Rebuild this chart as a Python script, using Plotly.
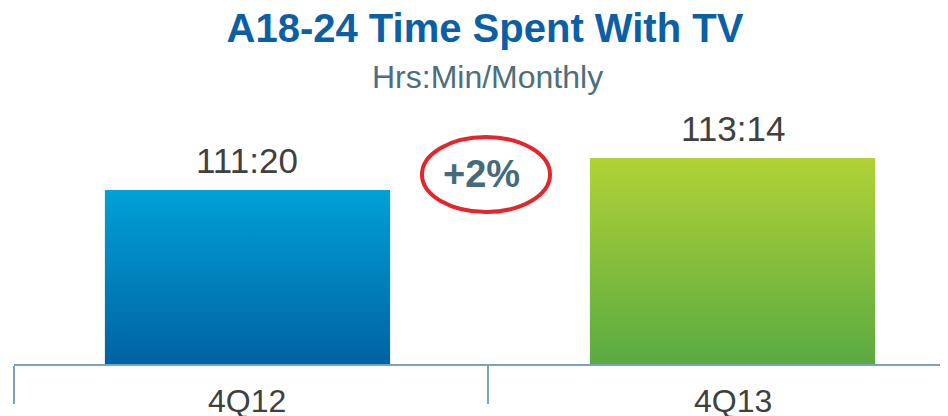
import plotly.graph_objects as go

# data
categories = ["4Q12", "4Q13"]
hours_part = [111, 113]
minutes_part = [20, 14]
change_label = "+2%"
title_text = "A18-24 Time Spent With TV"
subtitle_text = "Hrs:Min/Monthly"

values = [h + m / 60 for h, m in zip(hours_part, minutes_part)]
value_labels = [f"{h}:{m:02d}" for h, m in zip(hours_part, minutes_part)]

# styles
FONT = "Liberation Sans, Arial, sans-serif"
TITLE_BLUE = "#0b60a5"
SUB_INK = "#4d6e7e"
INK = "#404040"
AXIS = "#7ba4bc"
BADGE_INK = "#456a7c"
RING = "#e2262b"
GRADIENTS = [["#0062a2", "#00a1d6"], ["#5aaa42", "#b1d236"]]  # bottom -> top

Y_BASE = 101.0
HALF_W = 0.294
PX_PER_UNIT = 16.84
PLOT_H = 356  # page body adds an 8px offset, figure is sized to fit

fig = go.Figure()
for i, (cat, v) in enumerate(zip(categories, values)):
    bottom, top = GRADIENTS[i]
    fig.add_scatter(
        x=[i - HALF_W, i - HALF_W, i + HALF_W, i + HALF_W, i - HALF_W],
        y=[Y_BASE, v, v, Y_BASE, Y_BASE],
        mode="lines", line=dict(width=0), fill="toself",
        fillgradient=dict(type="vertical", colorscale=[[0, bottom], [1, top]]),
        name=cat, hoverinfo="skip", showlegend=False,
    )
    fig.add_annotation(x=i, y=v, text=value_labels[i], showarrow=False,
                       yanchor="bottom", yshift=8,
                       font=dict(family=FONT, size=35, color=INK))
    # category label under the axis
    fig.add_annotation(x=i, yref="paper", y=-0.104, text=cat, showarrow=False,
                       yanchor="middle", font=dict(family=FONT, size=32, color=INK))

fig.update_layout(
    template="none",
    width=940, height=408,
    paper_bgcolor="white", plot_bgcolor="white",
    margin=dict(l=6, r=0, t=0, b=52),
    showlegend=False,
    title=dict(text=f"<b>{title_text}</b>", x=0.5074, xanchor="center",
               y=1 - 20 / 408, yanchor="middle", xref="container", yref="container",
               font=dict(family=FONT, size=40, color=TITLE_BLUE)),
)
fig.add_annotation(xref="paper", yref="paper", x=0.507, y=0.806, text=subtitle_text,
                   showarrow=False, yanchor="middle",
                   font=dict(family=FONT, size=32, color=SUB_INK))

# ring + change badge
fig.add_shape(type="circle", xref="paper", yref="paper",
              x0=0.4368, x1=0.5739, y0=0.4270, y1=0.6376,
              line=dict(color=RING, width=4), fillcolor="rgba(0,0,0,0)")
fig.add_annotation(xref="paper", yref="paper", x=0.501, y=0.5337, text=f"<b>{change_label}</b>",
                   showarrow=False, yanchor="middle",
                   font=dict(family=FONT, size=38, color=BADGE_INK))

fig.update_xaxes(
    range=[-0.4814, 1.4443], showgrid=False, zeroline=False,
    showline=True, linecolor=AXIS, linewidth=2,
    tickmode="array", tickvals=list(range(len(categories))), ticks="",
    showticklabels=False,
    minor=dict(tickmode="array", tickvals=[-0.4814, 0.4959], ticks="outside",
               ticklen=38, tickwidth=2, tickcolor=AXIS),
    fixedrange=True,
)
fig.update_yaxes(range=[Y_BASE, Y_BASE + PLOT_H / PX_PER_UNIT], visible=False, fixedrange=True)

fig.write_html("out.html")
